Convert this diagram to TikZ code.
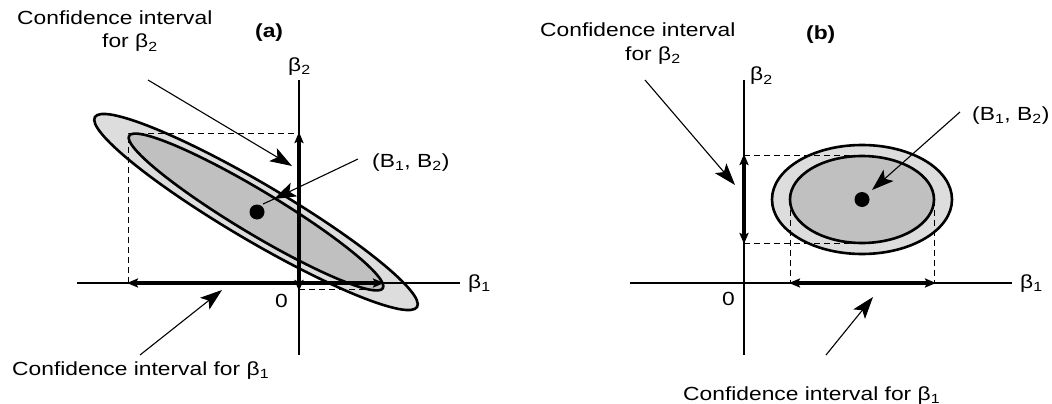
\documentclass[tikz,border=0pt]{standalone}
\usepackage{fontspec}
\setmainfont{Liberation Sans}
\usepackage{graphicx}
\usetikzlibrary{arrows.meta}
\definecolor{lightfill}{RGB}{221,221,221}
\definecolor{darkfill}{RGB}{192,192,192}
\newcommand{\wide}[1]{\scalebox{1.2}[1]{#1}}
\begin{document}
\begin{tikzpicture}[x=1pt,y=-1pt,
  lbl/.style={anchor=base west, inner sep=0pt, font=\fontsize{19}{22}\selectfont},
  ax/.style={line width=1.1pt},
  rim/.style={line width=2.6pt},
  interval/.style={line width=3.8pt, {Stealth[length=11pt,width=9pt,inset=2pt]}-{Stealth[length=11pt,width=9pt,inset=2pt]}},
  pointer/.style={line width=1.1pt, -{Stealth[length=22pt,width=15pt,inset=5pt]}},
  guide/.style={line width=1pt, dash pattern=on 6pt off 4pt},
  dot/.style={circle, fill=black, inner sep=0pt, minimum size=15pt},
]
\useasboundingbox (0,0) rectangle (1052,404);

% ================= Panel (a) =================
\coordinate (aC) at (256,212);
\fill[lightfill, rotate around={-30.5:(aC)}] (aC) ellipse [x radius=187pt, y radius=28.5pt];
\fill[darkfill, rotate around={-31:(aC)}] (aC) ellipse [x radius=148pt, y radius=21.5pt];

% guide lines
\coordinate (aL) at (128,283);
\coordinate (aLT) at (128,133);
\coordinate (aTT) at (299,133);
\coordinate (aBB) at (299,289);
\coordinate (aBR) at (372,289);
\draw[guide] (aL) -- (aLT) -- (aTT);
\draw[guide] (aBB) -- (aBR);

\draw[rim, rotate around={-30.5:(aC)}] (aC) ellipse [x radius=187pt, y radius=28.5pt];
\draw[rim, rotate around={-31:(aC)}] (aC) ellipse [x radius=148pt, y radius=21.5pt];

% axes
\coordinate (aXl) at (77,283);
\coordinate (aXr) at (460,283);
\coordinate (aYt) at (299,80);
\coordinate (aYb) at (299,355);
\draw[ax] (aXl) -- (aXr);
\draw[ax] (aYt) -- (aYb);

% intervals
\coordinate (aI1l) at (127,283);
\coordinate (aI1r) at (384,283);
\coordinate (aI2t) at (299,132);
\coordinate (aI2b) at (299,291);
\draw[interval] (aI1l) -- (aI1r);
\draw[interval] (aI2b) -- (aI2t);

\node[dot] (aDot) at (257,212) {};

% labels
\node[lbl] (aT1) at (17,25) {\wide{Confidence interval}};
\node[lbl] (aT2) at (102,48) {\wide{for β\textsubscript{2}}};
\node[lbl, font=\fontsize{19}{22}\selectfont\bfseries] (aTag) at (255,38) {\wide{(a)}};
\node[lbl] (aYlab) at (288,71) {\wide{β\textsubscript{2}}};
\node[lbl] (aXlab) at (468,288) {\wide{β\textsubscript{1}}};
\node[lbl] (aZero) at (275,307) {\wide{0}};
\node[lbl] (aB) at (372,167) {\wide{(B\textsubscript{1}, B\textsubscript{2})}};
\node[lbl] (aT3) at (12,375) {\wide{Confidence interval for β\textsubscript{1}}};

% pointers
\coordinate (aP2s) at (148,80);
\coordinate (aP2e) at (292,166);
\draw[pointer] (aP2s) -- (aP2e);
\coordinate (aPBs) at (358,159);
\coordinate (aPBm) at (274,199);
\coordinate (aPBe) at (263,204);
\draw[pointer] (aPBs) -- (aPBm);
\draw[line width=1.1pt] (aPBm) -- (aPBe);
\coordinate (aP1s) at (140,355);
\coordinate (aP1e) at (222,290);
\draw[pointer] (aP1s) -- (aP1e);

% ================= Panel (b) =================
\coordinate (bC) at (862,199.5);
\fill[lightfill] (bC) ellipse [x radius=90pt, y radius=54.5pt];
\fill[darkfill] (bC) ellipse [x radius=72pt, y radius=43.5pt];

\coordinate (bTl) at (744,155);
\coordinate (bTr) at (862,155);
\coordinate (bBl) at (744,243);
\coordinate (bBr) at (862,243);
\coordinate (bLt) at (790,199.5);
\coordinate (bLb) at (790,283);
\coordinate (bRt) at (934,199.5);
\coordinate (bRb) at (934,283);
\draw[guide] (bTl) -- (bTr);
\draw[guide] (bBl) -- (bBr);
\draw[guide] (bLt) -- (bLb);
\draw[guide] (bRt) -- (bRb);

\draw[rim] (bC) ellipse [x radius=90pt, y radius=54.5pt];
\draw[rim] (bC) ellipse [x radius=72pt, y radius=43.5pt];

\coordinate (bXl) at (630,283);
\coordinate (bXr) at (1012,283);
\coordinate (bYt) at (744,80);
\coordinate (bYb) at (744,355);
\draw[ax] (bXl) -- (bXr);
\draw[ax] (bYt) -- (bYb);

\coordinate (bI1l) at (789,283);
\coordinate (bI1r) at (936,283);
\coordinate (bI2t) at (744,154);
\coordinate (bI2b) at (744,244);
\draw[interval] (bI1l) -- (bI1r);
\draw[interval] (bI2b) -- (bI2t);

\node[dot] (bDot) at (bC) {};

\node[lbl] (bT1) at (540,37) {\wide{Confidence interval}};
\node[lbl] (bT2) at (625,60) {\wide{for β\textsubscript{2}}};
\node[lbl, font=\fontsize{19}{22}\selectfont\bfseries] (bTag) at (806,40) {\wide{(b)}};
\node[lbl] (bYlab) at (750,81) {\wide{β\textsubscript{2}}};
\node[lbl] (bXlab) at (1020,288) {\wide{β\textsubscript{1}}};
\node[lbl] (bZero) at (722,305) {\wide{0}};
\node[lbl] (bB) at (972,120) {\wide{(B\textsubscript{1}, B\textsubscript{2})}};
\node[lbl] (bT3) at (683,400) {\wide{Confidence interval for β\textsubscript{1}}};

\coordinate (bP2s) at (645,80);
\coordinate (bP2e) at (735,185);
\draw[pointer] (bP2s) -- (bP2e);
\coordinate (bPBs) at (960,112);
\coordinate (bPBe) at (872,190);
\draw[pointer] (bPBs) -- (bPBe);
\coordinate (bP1s) at (826,355);
\coordinate (bP1e) at (873,297);
\draw[pointer] (bP1s) -- (bP1e);
\end{tikzpicture}
\end{document}
